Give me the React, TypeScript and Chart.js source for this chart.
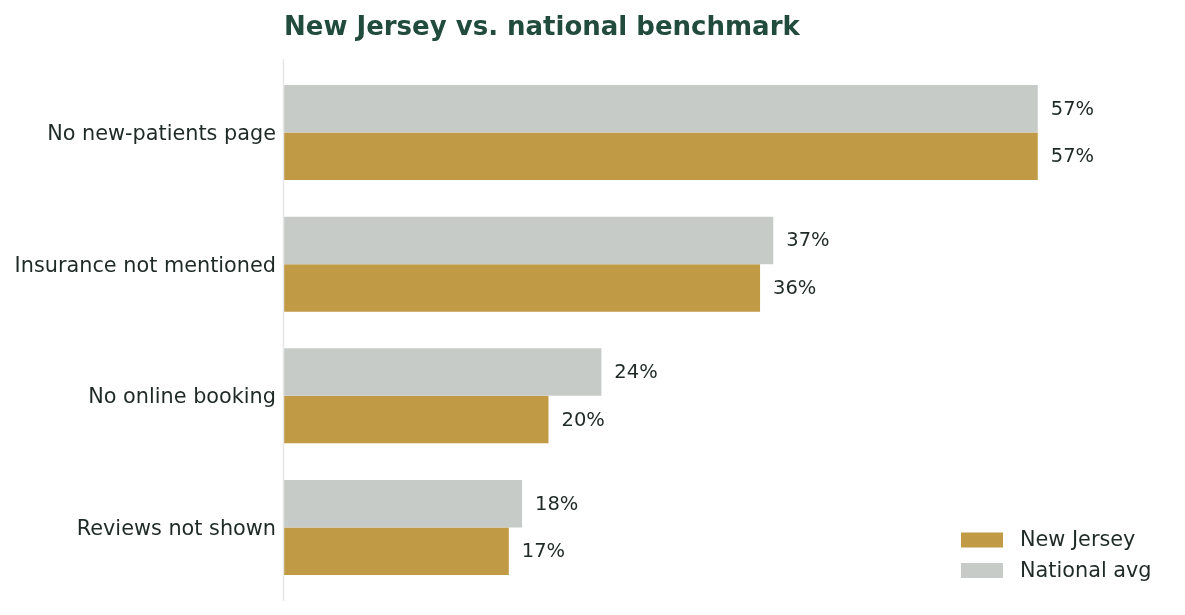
import React, { useEffect, useRef } from "react";
import { Chart, registerables } from "chart.js";

Chart.register(...registerables);

const categories = ["No new-patients page", "Insurance not mentioned", "No online booking", "Reviews not shown"];
const nationalAvg = [57, 37, 24, 18];
const newJersey = [57, 36, 20, 17];
const seriesNames = ["National avg", "New Jersey"];
const legendOrder = ["New Jersey", "National avg"];
const title = "New Jersey vs. national benchmark";

const GOLD = "#c19a45";
const GRAY = "#c7cbc8";
const TEXT = "#1f2a27";
const FONT = "'DejaVu Sans', sans-serif";

export default function App() {
  const ref = useRef<HTMLCanvasElement | null>(null);

  useEffect(() => {
    document.body.style.margin = "0";
    const canvas = ref.current!;
    const overlay = {
      id: "overlay",
      afterDraw(chart: any) {
        const ctx = chart.ctx;
        const ca = chart.chartArea;
        ctx.save();
        // left axis line
        ctx.strokeStyle = "#e6e6e6";
        ctx.lineWidth = 1.5;
        ctx.beginPath();
        ctx.moveTo(ca.left - 0.5, 59);
        ctx.lineTo(ca.left - 0.5, 601);
        ctx.stroke();
        // title
        ctx.fillStyle = "#214b3c";
        ctx.font = `bold 26px ${FONT}`;
        ctx.textAlign = "left";
        ctx.textBaseline = "alphabetic";
        ctx.fillText(title, ca.left, 35);
        // value labels
        ctx.font = `19.5px ${FONT}`;
        ctx.fillStyle = TEXT;
        ctx.textBaseline = "middle";
        chart.data.datasets.forEach((ds: any, di: number) => {
          const meta = chart.getDatasetMeta(di);
          meta.data.forEach((bar: any, i: number) => {
            ctx.fillText(`${ds.data[i]}%`, bar.x + 13, bar.y + 1);
          });
        });
        // legend
        ctx.font = `20.8px ${FONT}`;
        legendOrder.forEach((name, k) => {
          const di = chart.data.datasets.findIndex((d: any) => d.label === name);
          const ds = chart.data.datasets[di];
          const cy = 540 + k * 30.5;
          ctx.fillStyle = ds.backgroundColor;
          ctx.fillRect(961, cy - 7.5, 42, 15);
          ctx.fillStyle = TEXT;
          ctx.fillText(name, 1020, cy + 1);
        });
        ctx.restore();
      },
    };

    const chart = new Chart(canvas, {
      type: "bar",
      data: {
        labels: categories,
        datasets: [
          { label: seriesNames[0], data: nationalAvg, backgroundColor: GRAY, categoryPercentage: 0.722, barPercentage: 1.0 },
          { label: seriesNames[1], data: newJersey, backgroundColor: GOLD, categoryPercentage: 0.722, barPercentage: 1.0 },
        ],
      },
      options: {
        indexAxis: "y",
        responsive: false,
        animation: false,
        layout: { padding: { top: 66.7, bottom: 21.7, left: 0, right: 15 } },
        plugins: { legend: { display: false }, tooltip: { enabled: false }, title: { display: false } },
        scales: {
          x: { display: false, min: 0, max: 67 },
          y: {
            grid: { display: false, drawTicks: false },
            border: { display: false },
            ticks: { color: TEXT, font: { family: FONT, size: 20.8 }, padding: 8, labelOffset: 2 },
            afterFit(scale: any) {
              scale.width = 284;
            },
          },
        },
      },
      plugins: [overlay],
    });
    return () => chart.destroy();
  }, []);

  return <canvas ref={ref} width={1185} height={615} style={{ display: "block" }} />;
}
